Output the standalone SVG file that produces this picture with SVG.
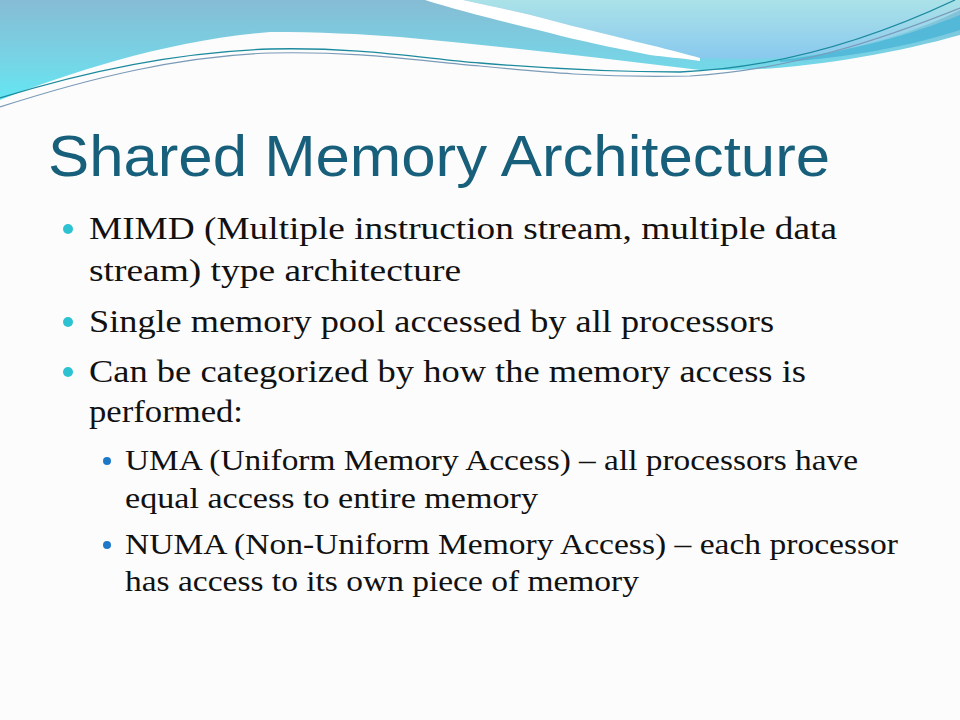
<svg xmlns="http://www.w3.org/2000/svg" width="960" height="720" viewBox="0 0 960 720">
<defs>
<linearGradient id="gBand" gradientUnits="userSpaceOnUse" x1="0" y1="0" x2="0" y2="100">
<stop offset="0" stop-color="#86bcd4"/>
<stop offset="0.55" stop-color="#78d2e4"/>
<stop offset="1" stop-color="#64e6f2"/>
</linearGradient>
<linearGradient id="gRight" gradientUnits="userSpaceOnUse" x1="0" y1="0" x2="0" y2="60">
<stop offset="0" stop-color="#abe2e8"/>
<stop offset="1" stop-color="#88c8ee"/>
</linearGradient>
<style>
.title{font-family:"Liberation Sans","Open Sans",sans-serif;font-size:58px;fill:#175f7a}
.body{font-family:"Liberation Serif","DejaVu Serif",serif;font-size:32px;fill:#111}
.sub{font-family:"Liberation Serif","DejaVu Serif",serif;font-size:30px;fill:#111}
.b1{fill:#2cc2d2}
.b2{fill:#1e78c8}
</style>
</defs>
<rect width="960" height="720" fill="#fcfcfc"/>
<g id="waves">
<path d="M0,0 H960 V35 C900,52 820,66 760,69 C740,70 720,70 700,70 C600,58 500,46 400,37 C360,34 320,32 270,32 C170,40 70,72 0,100 Z" fill="url(#gBand)"/>
<path d="M463,0 H960 V10 C920,30 860,50 800,56 C760,60 730,59 700,58 C680,52 660,48 650,45 C610,35 580,28 550,20 C520,12 490,6 463,0 Z" fill="url(#gRight)"/>
<path d="M425,0 H463 C490,6 520,12 550,20 C580,28 610,35 650,45 C670,50 690,55 700,58 L700,61 C680,58 665,57 650,55 C610,47 580,41 550,33 C500,21 460,11 425,0 Z" fill="#ffffff"/>
<path d="M780,60 C850,52 910,35 960,15 V30 C910,46 850,58 780,62 Z" fill="#4cb6d8" opacity="0.85"/>
<path d="M0,98 C90,70 180,52 270,49 C360,47 420,58 480,63 C540,68 600,72 680,72 C780,68 870,40 955,0" fill="none" stroke="#1c8a9e" stroke-width="1.3"/>
<path d="M0,107 C90,78 180,56 270,53 C360,51 420,61 480,66 C540,72 600,78 690,76 C790,70 880,40 960,8" fill="none" stroke="#7a9ab8" stroke-width="1.2"/>
</g>
<g id="title">
<text class="title" x="48" y="176" textLength="782" lengthAdjust="spacingAndGlyphs">Shared Memory Architecture</text>
</g>
<g id="bullets">
<circle class="b1" cx="68" cy="229" r="5"/>
<text class="body" x="89" y="239" textLength="748" lengthAdjust="spacingAndGlyphs">MIMD (Multiple instruction stream, multiple data</text>
<text class="body" x="89" y="281" textLength="372" lengthAdjust="spacingAndGlyphs">stream) type architecture</text>
<circle class="b1" cx="68" cy="322" r="5"/>
<text class="body" x="89" y="332" textLength="685" lengthAdjust="spacingAndGlyphs">Single memory pool accessed by all processors</text>
<circle class="b1" cx="68" cy="372" r="5"/>
<text class="body" x="89" y="382" textLength="717" lengthAdjust="spacingAndGlyphs">Can be categorized by how the memory access is</text>
<text class="body" x="89" y="422" textLength="154" lengthAdjust="spacingAndGlyphs">performed:</text>
<circle class="b2" cx="107" cy="461" r="4"/>
<text class="sub" x="125" y="470" textLength="733" lengthAdjust="spacingAndGlyphs">UMA (Uniform Memory Access) – all processors have</text>
<text class="sub" x="125" y="508" textLength="413" lengthAdjust="spacingAndGlyphs">equal access to entire memory</text>
<circle class="b2" cx="107" cy="545" r="4"/>
<text class="sub" x="125" y="554" textLength="773" lengthAdjust="spacingAndGlyphs">NUMA (Non-Uniform Memory Access) – each processor</text>
<text class="sub" x="125" y="591" textLength="514" lengthAdjust="spacingAndGlyphs">has access to its own piece of memory</text>
</g>
</svg>
